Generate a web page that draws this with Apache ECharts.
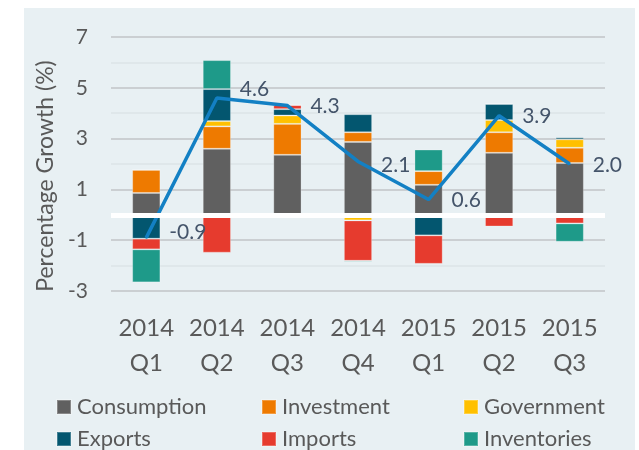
<!DOCTYPE html>
<html>
<head>
<meta charset="utf-8">
<script src="https://cdn.jsdelivr.net/npm/echarts@6/dist/echarts.min.js"></script>
<style>
  html, body { margin: 0; padding: 0; background: #fff; }
  #panel { position: absolute; left: 24px; top: 8px; width: 611px; height: 442px; background: #e8f0f3; }
  #main { position: absolute; left: 0; top: 0; width: 639px; height: 450px; }
</style>
</head>
<body>
<div id="panel"></div>
<div id="main"></div>
<script>
var quarters = ["2014\nQ1", "2014\nQ2", "2014\nQ3", "2014\nQ4", "2015\nQ1", "2015\nQ2", "2015\nQ3"];

var consumption = [0.86, 2.60, 2.36, 2.87, 1.18, 2.44, 2.04];
var investment  = [0.91, 0.88, 1.22, 0.38, 0.54, 0.81, 0.60];
var government  = [0, 0.21, 0.33, -0.22, 0, 0.48, 0.33];
var exportsC    = [-0.94, 1.26, 0.25, 0.71, -0.81, 0.63, 0.08];
var imports     = [-0.42, -1.49, 0.16, -1.59, -1.12, -0.46, -0.34];
var inventories = [-1.30, 1.14, 0, -0.05, 0.85, 0.04, -0.72];
var total       = [-0.9, 4.6, 4.3, 2.1, 0.6, 3.9, 2.0];

var font = "Lato";
var barColors = {
  Consumption: "#606060",
  Investment: "#ee7a00",
  Government: "#ffc000",
  Exports: "#03566f",
  Imports: "#e63b2e",
  Inventories: "#1e9a89"
};

function bar(name, values) {
  return {
    name: name,
    type: "bar",
    stack: "gdp",
    barWidth: "40%",
    data: values,
    itemStyle: {
      color: barColors[name],
      borderColor: "rgba(255,255,255,0.25)",
      borderWidth: 1
    }
  };
}

// small nudges for the total labels, like the original
var labelNudge = [[0, -5], [0, -9], [0, 1], [0, 4], [0, 1], [0, 0], [0, 1]];

var myChart = echarts.init(document.getElementById("main"), null, { renderer: "canvas" });

// one legend per entry so the three columns line up like the original
function legendItem(name, left, top) {
  return {
    left: left,
    top: top,
    itemWidth: 14,
    itemHeight: 14,
    icon: "rect",
    data: [name],
    selectedMode: false,
    textStyle: { color: "#595959", fontSize: 22, fontFamily: "Lato", padding: [0, 0, 0, 1] }
  };
}

var option = {
  animation: false,
  backgroundColor: "transparent",
  grid: { left: 111, right: 34, top: 37, bottom: 159 },
  legend: [
    legendItem("Consumption", 51, 391),
    legendItem("Investment", 256, 391),
    legendItem("Government", 458, 391),
    legendItem("Exports", 51, 423),
    legendItem("Imports", 256, 423),
    legendItem("Inventories", 458, 423)
  ],
  xAxis: {
    type: "category",
    data: quarters,
    axisLine: { show: false },
    axisTick: { show: false },
    axisLabel: {
      color: "#595959",
      fontSize: 24,
      fontFamily: font,
      lineHeight: 35,
      margin: 20,
      interval: 0
    }
  },
  yAxis: {
    type: "value",
    min: -3,
    max: 7,
    interval: 1,
    name: "Percentage Growth (%)",
    nameLocation: "middle",
    nameGap: 51,
    nameTextStyle: { color: "#595959", fontSize: 23, fontFamily: font, padding: [0, 24, 0, 0] },
    axisLine: { show: false },
    axisTick: { show: false },
    axisLabel: {
      color: "#595959",
      fontSize: 21,
      fontFamily: font,
      margin: 23,
      formatter: function (v) {
        return Math.abs(v % 2) === 1 ? String(v) : "";
      }
    },
    splitLine: {
      lineStyle: { color: ["#c2c5c7", "#dde4e7"], width: 1.5 }
    }
  },
  series: [
    bar("Consumption", consumption),
    bar("Investment", investment),
    bar("Government", government),
    bar("Exports", exportsC),
    bar("Imports", imports),
    bar("Inventories", inventories),
    {
      name: "zero",
      type: "line",
      data: [null, null, null, null, null, null, null],
      symbol: "none",
      z: 3,
      silent: true,
      markLine: {
        silent: true,
        symbol: "none",
        label: { show: false },
        lineStyle: { color: "#ffffff", width: 5, type: "solid" },
        data: [{ yAxis: 0 }]
      }
    },
    {
      name: "Total",
      type: "line",
      z: 4,
      symbol: "circle",
      symbolSize: 2,
      itemStyle: { color: "#1380c4" },
      data: total.map(function (v, i) {
        return { value: v, label: { offset: labelNudge[i] } };
      }),
      lineStyle: { color: "#1380c4", width: 3.5 },
      label: {
        show: true,
        position: "right",
        distance: 22,
        color: "#44546a",
        fontSize: 21,
        fontFamily: font,
        formatter: function (p) {
          return p.value.toFixed(1);
        }
      }
    }
  ]
};

option && myChart.setOption(option);
</script>
</body>
</html>
